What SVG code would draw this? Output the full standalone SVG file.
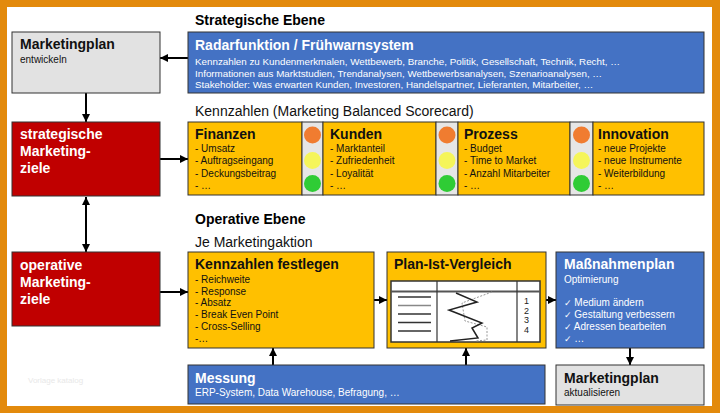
<svg xmlns="http://www.w3.org/2000/svg" width="720" height="413" viewBox="0 0 720 413">
<style>
text{font-family:"Liberation Sans",Arial,"DejaVu Sans",sans-serif;}
.h{font-weight:bold;font-size:14px;fill:#000;}
.sec{font-size:14px;fill:#111;}
.t{font-weight:bold;font-size:14px;}
.s{font-size:10px;}
.xs{font-size:9.8px;}
.w{fill:#fff;}
.k{fill:#111;}
.bx{stroke:#333;stroke-width:1;}
.yel{fill:#ffc000;}
.blu{fill:#4472c4;}
.red{fill:#c00000;}
.gry{fill:#e2e2e2;}
.lt{fill:#e6e6e6;}
.con{stroke:#000;stroke-width:2;fill:none;marker-end:url(#ah);}
.chk{font-family:"DejaVu Sans","Liberation Sans",sans-serif;font-size:9px;}
</style>
<defs>
<marker id="ah" viewBox="0 0 8 8" markerWidth="8" markerHeight="8" refX="8" refY="4" orient="auto-start-reverse" markerUnits="userSpaceOnUse">
<path d="M0,0 L8,4 L0,8 z" fill="#000"/>
</marker>
</defs>
<rect x="0" y="0" width="720" height="413" fill="#e38a0c"/>
<rect x="7" y="7" width="705" height="399" fill="#fff"/>
<text x="28" y="383" font-size="8" fill="#e8e8e8">Vorlage katalog</text>

<text class="h" x="195" y="25">Strategische Ebene</text>
<text class="sec" x="195" y="116">Kennzahlen (Marketing Balanced Scorecard)</text>
<text class="h" x="195" y="224">Operative Ebene</text>
<text class="sec" x="195" y="247">Je Marketingaktion</text>

<g id="connectors">
<line class="con" x1="188" y1="58" x2="160" y2="58"/>
<line class="con" x1="86" y1="93" x2="86" y2="122"/>
<line class="con" x1="86" y1="197" x2="86" y2="252" marker-start="url(#ah)"/>
<line class="con" x1="160" y1="159" x2="188" y2="159"/>
<line class="con" x1="160" y1="292" x2="188" y2="292"/>
<line class="con" x1="374" y1="300" x2="387" y2="300"/>
<line class="con" x1="546" y1="300" x2="556" y2="300"/>
<line class="con" x1="630" y1="348" x2="630" y2="365"/>
<line class="con" x1="273" y1="365" x2="273" y2="348"/>
<line class="con" x1="466" y1="365" x2="466" y2="348"/>
</g>

<g id="mp-entwickeln">
<rect class="bx gry" x="12" y="32" width="148" height="61"/>
<text class="t k" x="20" y="49">Marketingplan</text>
<text class="s k" x="20" y="62.5">entwickeln</text>
</g>

<g id="radar">
<rect class="bx blu" x="188" y="32" width="516" height="61"/>
<text class="t w" x="195" y="50">Radarfunktion / Frühwarnsystem</text>
<text class="xs w" x="195" y="64.5">Kennzahlen zu Kundenmerkmalen,  Wettbewerb, Branche, Politik, Gesellschaft, Technik, Recht, …</text>
<text class="xs w" x="195" y="76.5">Informationen aus Marktstudien, Trendanalysen, Wettbewerbsanalysen, Szenarioanalysen, …</text>
<text class="xs w" x="195" y="88">Stakeholder: Was erwarten Kunden, Investoren, Handelspartner, Lieferanten, Mitarbeiter, …</text>
</g>

<g id="strat-ziele">
<rect class="bx red" x="12" y="122" width="148" height="74"/>
<text class="t w" x="20" y="139">strategische</text>
<text class="t w" x="20" y="156">Marketing-</text>
<text class="t w" x="20" y="173">ziele</text>
</g>

<g id="oper-ziele">
<rect class="bx red" x="12" y="252" width="148" height="74"/>
<text class="t w" x="20" y="270">operative</text>
<text class="t w" x="20" y="287">Marketing-</text>
<text class="t w" x="20" y="304">ziele</text>
</g>

<g id="finanzen">
<rect class="bx yel" x="188" y="122" width="114" height="73"/>
<text class="t k" x="195" y="139">Finanzen</text>
<text class="s k" x="195" y="151.5">- Umsatz</text>
<text class="s k" x="195" y="164">- Auftragseingang</text>
<text class="s k" x="195" y="176.5">- Deckungsbeitrag</text>
<text class="s k" x="195" y="188.5">- …</text>
<rect class="bx lt" x="302" y="122" width="21" height="73"/>
<circle cx="312.5" cy="135" r="8.5" fill="#f07c30"/>
<circle cx="312.5" cy="160.5" r="8.5" fill="#f5f55a"/>
<circle cx="312.5" cy="183.5" r="8.5" fill="#2fcc35"/>
</g>

<g id="kunden">
<rect class="bx yel" x="323" y="122" width="113" height="73"/>
<text class="t k" x="330" y="139">Kunden</text>
<text class="s k" x="330" y="151.5">- Marktanteil</text>
<text class="s k" x="330" y="164">- Zufriedenheit</text>
<text class="s k" x="330" y="176.5">- Loyalität</text>
<text class="s k" x="330" y="188.5">- …</text>
<rect class="bx lt" x="436" y="122" width="22" height="73"/>
<circle cx="447" cy="135" r="8.5" fill="#f07c30"/>
<circle cx="447" cy="160.5" r="8.5" fill="#f5f55a"/>
<circle cx="447" cy="183.5" r="8.5" fill="#2fcc35"/>
</g>

<g id="prozess">
<rect class="bx yel" x="458" y="122" width="112" height="73"/>
<text class="t k" x="464" y="139">Prozess</text>
<text class="s k" x="464" y="151.5">- Budget</text>
<text class="s k" x="464" y="164">- Time to Market</text>
<text class="s k" x="464" y="176.5">- Anzahl  Mitarbeiter</text>
<text class="s k" x="464" y="188.5">- …</text>
<rect class="bx lt" x="570" y="122" width="23" height="73"/>
<circle cx="581.5" cy="135" r="8.5" fill="#f07c30"/>
<circle cx="581.5" cy="160.5" r="8.5" fill="#f5f55a"/>
<circle cx="581.5" cy="183.5" r="8.5" fill="#2fcc35"/>
</g>

<g id="innovation">
<rect class="bx yel" x="593" y="122" width="111" height="73"/>
<text class="t k" x="598" y="139">Innovation</text>
<text class="s k" x="598" y="151.5">- neue Projekte</text>
<text class="s k" x="598" y="164">- neue Instrumente</text>
<text class="s k" x="598" y="176.5">- Weiterbildung</text>
<text class="s k" x="598" y="188.5">- …</text>
</g>

<g id="kennzahlen-festlegen">
<rect class="bx yel" x="188" y="252" width="186" height="96"/>
<text class="t k" x="195" y="269">Kennzahlen festlegen</text>
<text class="s k" x="195" y="283">- Reichweite</text>
<text class="s k" x="195" y="294.5">- Response</text>
<text class="s k" x="195" y="306">- Absatz</text>
<text class="s k" x="195" y="318">- Break Even Point</text>
<text class="s k" x="195" y="330">- Cross-Selling</text>
<text class="s k" x="195" y="341.5">-…</text>
</g>

<g id="plan-ist">
<rect class="bx yel" x="387" y="252" width="159" height="96"/>
<text class="t k" x="394" y="269">Plan-Ist-Vergleich</text>
<rect x="391" y="281" width="149" height="61" fill="#fff" stroke="#333" stroke-width="1.5"/>
<line x1="391" y1="291.5" x2="540" y2="291.5" stroke="#555" stroke-width="2"/>
<line x1="437" y1="281" x2="437" y2="342" stroke="#333" stroke-width="1.2"/>
<line x1="517" y1="281" x2="517" y2="342" stroke="#333" stroke-width="1.2"/>
<g stroke="#333" stroke-width="1.3">
<line x1="398" y1="297" x2="431" y2="297"/>
<line x1="398" y1="305.5" x2="431" y2="305.5" stroke="#888"/>
<line x1="398" y1="314" x2="431" y2="314"/>
<line x1="398" y1="322.5" x2="431" y2="322.5"/>
<line x1="398" y1="331" x2="431" y2="331"/>
</g>
<polyline points="492,292 462,303 465,321 487,327 487,340 475,341" fill="none" stroke="#999" stroke-width="1" stroke-dasharray="2,1.5"/>
<polyline points="456,293 477,302 449,310 482,323 472,328 478,338 450,341" fill="none" stroke="#222" stroke-width="1.5"/>
<text x="524" y="304" font-size="9" fill="#222">1</text>
<text x="524" y="313.5" font-size="9" fill="#222">2</text>
<text x="524" y="323" font-size="9" fill="#222">3</text>
<text x="524" y="333" font-size="9" fill="#222">4</text>
</g>

<g id="massnahmenplan">
<rect class="bx blu" x="556" y="252" width="148" height="96"/>
<text class="t w" x="564" y="269">Maßnahmenplan</text>
<text class="s w" x="564" y="283">Optimierung</text>
<text class="s w" x="564" y="306"><tspan class="chk">✓</tspan> Medium ändern</text>
<text class="s w" x="564" y="318"><tspan class="chk">✓</tspan> Gestaltung verbessern</text>
<text class="s w" x="564" y="330"><tspan class="chk">✓</tspan> Adressen bearbeiten</text>
<text class="s w" x="564" y="342"><tspan class="chk">✓</tspan> …</text>
</g>

<g id="messung">
<rect class="bx blu" x="188" y="365" width="357" height="39"/>
<text class="t w" x="195" y="383">Messung</text>
<text class="s w" x="195" y="396">ERP-System, Data Warehouse, Befragung, …</text>
</g>

<g id="mp-aktualisieren">
<rect class="bx gry" x="556" y="365" width="148" height="40"/>
<text class="t k" x="564" y="383">Marketingplan</text>
<text class="s k" x="564" y="396">aktualisieren</text>
</g>
</svg>
